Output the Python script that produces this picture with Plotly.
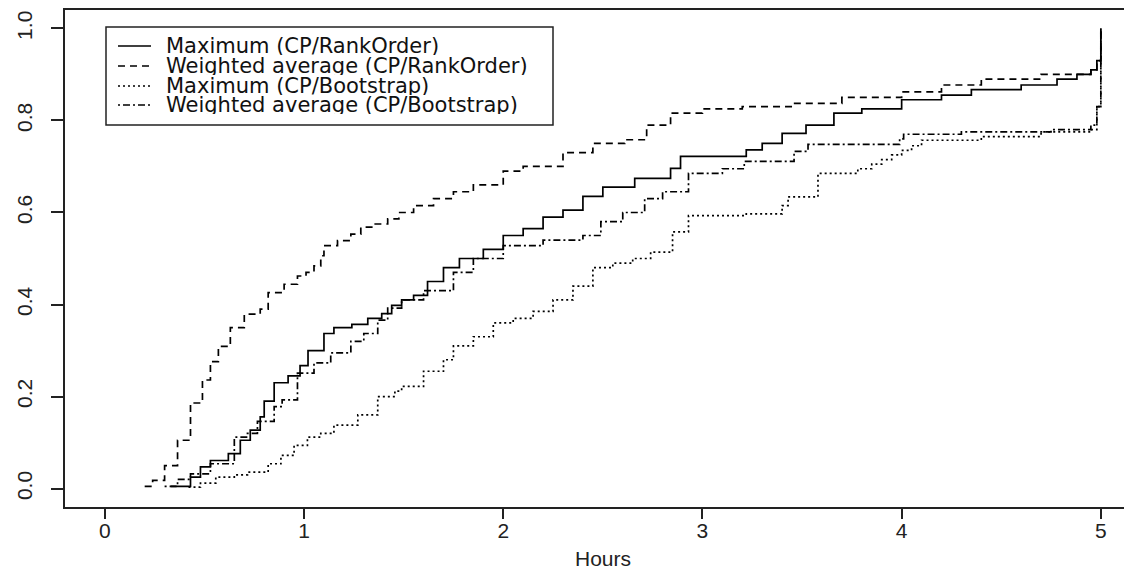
import plotly.graph_objects as go

# ---------------- data ----------------
series_names = [
    "Maximum (CP/RankOrder)",
    "Weighted average (CP/RankOrder)",
    "Maximum (CP/Bootstrap)",
    "Weighted average (CP/Bootstrap)",
]

hours_max_rank = [0.33, 0.43, 0.48, 0.53, 0.62, 0.68, 0.73, 0.78, 0.80, 0.85, 0.92, 0.98,
                  1.02, 1.10, 1.15, 1.24, 1.32, 1.39, 1.44, 1.49, 1.55, 1.62, 1.70, 1.78,
                  1.90, 2.00, 2.10, 2.20, 2.30, 2.40, 2.50, 2.66, 2.84, 2.89, 3.22, 3.30,
                  3.40, 3.52, 3.66, 3.80, 4.00, 4.20, 4.35, 4.60, 4.78, 4.88, 4.95, 4.98, 5.00]
prob_max_rank = [0.005, 0.025, 0.047, 0.061, 0.076, 0.105, 0.127, 0.156, 0.19, 0.23, 0.245, 0.267,
                 0.30, 0.337, 0.35, 0.357, 0.37, 0.38, 0.398, 0.41, 0.42, 0.45, 0.48, 0.50,
                 0.52, 0.55, 0.565, 0.59, 0.605, 0.635, 0.655, 0.674, 0.696, 0.722, 0.736, 0.75,
                 0.772, 0.79, 0.816, 0.825, 0.845, 0.855, 0.867, 0.877, 0.89, 0.90, 0.91, 0.93, 1.0]

hours_wavg_rank = [0.20, 0.24, 0.30, 0.365, 0.43, 0.49, 0.53, 0.57, 0.63, 0.70, 0.78, 0.82,
                   0.90, 0.967, 1.01, 1.05, 1.084, 1.10, 1.168, 1.235, 1.285, 1.35, 1.42, 1.476,
                   1.55, 1.65, 1.75, 1.85, 2.00, 2.10, 2.30, 2.45, 2.61, 2.72, 2.84, 3.00,
                   3.20, 3.45, 3.70, 4.00, 4.20, 4.40, 4.70, 4.95, 4.98, 5.00]
prob_wavg_rank = [0.005, 0.018, 0.05, 0.105, 0.186, 0.236, 0.276, 0.309, 0.35, 0.379, 0.39, 0.426,
                  0.444, 0.462, 0.47, 0.484, 0.506, 0.528, 0.539, 0.553, 0.568, 0.575, 0.586, 0.60,
                  0.615, 0.63, 0.645, 0.66, 0.69, 0.70, 0.73, 0.75, 0.758, 0.79, 0.816, 0.825,
                  0.83, 0.837, 0.85, 0.862, 0.877, 0.89, 0.90, 0.91, 0.93, 1.0]

hours_max_boot = [0.42, 0.48, 0.557, 0.65, 0.716, 0.82, 0.884, 0.95, 1.017, 1.084, 1.15, 1.27,
                  1.37, 1.456, 1.49, 1.60, 1.70, 1.75, 1.85, 1.95, 2.05, 2.15, 2.25, 2.35,
                  2.45, 2.55, 2.65, 2.74, 2.85, 2.93, 3.22, 3.40, 3.43, 3.58, 3.78, 3.85,
                  3.90, 3.95, 4.00, 4.05, 4.10, 4.40, 4.70, 4.95, 4.98, 5.00]
prob_max_boot = [0.003, 0.012, 0.025, 0.03, 0.036, 0.054, 0.072, 0.094, 0.112, 0.12, 0.138, 0.16,
                 0.20, 0.212, 0.222, 0.255, 0.28, 0.31, 0.33, 0.36, 0.37, 0.385, 0.41, 0.44,
                 0.48, 0.49, 0.50, 0.514, 0.558, 0.593, 0.597, 0.615, 0.634, 0.685, 0.695, 0.705,
                 0.715, 0.725, 0.735, 0.745, 0.757, 0.765, 0.775, 0.78, 0.83, 1.0]

hours_wavg_boot = [0.30, 0.365, 0.43, 0.53, 0.65, 0.716, 0.766, 0.85, 0.89, 0.967, 1.05, 1.134,
                   1.235, 1.30, 1.37, 1.42, 1.49, 1.60, 1.75, 1.85, 2.00, 2.20, 2.40, 2.49,
                   2.60, 2.71, 2.80, 2.93, 3.10, 3.21, 3.46, 3.53, 3.99, 4.01, 4.30, 4.75,
                   4.95, 4.98, 5.00]
prob_wavg_boot = [0.005, 0.02, 0.032, 0.054, 0.112, 0.12, 0.146, 0.178, 0.193, 0.251, 0.273, 0.295,
                  0.32, 0.337, 0.366, 0.392, 0.41, 0.43, 0.47, 0.50, 0.528, 0.54, 0.55, 0.58,
                  0.60, 0.63, 0.645, 0.685, 0.695, 0.711, 0.733, 0.748, 0.76, 0.77, 0.775, 0.78,
                  0.79, 0.83, 1.0]

x_tick_values = [0, 1, 2, 3, 4, 5]
x_tick_labels = ["0", "1", "2", "3", "4", "5"]
y_tick_values = [0.0, 0.2, 0.4, 0.6, 0.8, 1.0]
y_tick_labels = ["0.0", "0.2", "0.4", "0.6", "0.8", "1.0"]
x_title = "Hours"

# ---------------- styling ----------------
W, H = 1124, 570
ML, MR, MT, MB = 65, 0, 10, 63
PW, PH = W - ML - MR, H - MT - MB
BOTTOM = H - MB

def paper_x(px):
    return (px - ML) / PW

def paper_y(py):
    return (BOTTOM - py) / PH

dashes = ["solid", "7px,5px", "2px,3px", "2px,3px,7px,3px"]
xs = [hours_max_rank, hours_wavg_rank, hours_max_boot, hours_wavg_boot]
ys = [prob_max_rank, prob_wavg_rank, prob_max_boot, prob_wavg_boot]

AX_FONT = dict(family="Liberation Sans, Arial, sans-serif", size=21, color="#222")
LEG_FONT = dict(family="DejaVu Sans, sans-serif", size=21, color="#111")

fig = go.Figure()
for name, x, y, d in zip(series_names, xs, ys, dashes):
    fig.add_trace(go.Scatter(
        x=x, y=y, mode="lines", name=name, showlegend=False,
        line=dict(shape="hv", color="black", width=1.7, dash=d),
    ))

# manual legend (R-style box)
box_l, box_r, box_t, box_b = 106, 553, 27, 125
shapes = [dict(type="rect", xref="paper", yref="paper",
               x0=paper_x(box_l), x1=paper_x(box_r), y0=paper_y(box_b), y1=paper_y(box_t),
               line=dict(color="#222", width=1.5), fillcolor="rgba(0,0,0,0)")]
annotations = []
row_y = [46, 66, 86, 105]
for name, d, ry in zip(series_names, dashes, row_y):
    shapes.append(dict(type="line", xref="paper", yref="paper",
                       x0=paper_x(118), x1=paper_x(151), y0=paper_y(ry), y1=paper_y(ry),
                       line=dict(color="black", width=1.7, dash=d)))
    annotations.append(dict(xref="paper", yref="paper", x=paper_x(164), y=paper_y(ry),
                            xanchor="left", yanchor="middle", text=name, showarrow=False,
                            height=18, valign="middle", font=LEG_FONT))

annotations.append(dict(xref="x", yref="paper", x=2.5, y=0, yanchor="top", xanchor="center",
                        yshift=-39, height=20, valign="middle", text=x_title, showarrow=False,
                        font=AX_FONT))

fig.update_layout(
    width=W, height=H,
    margin=dict(l=ML, r=MR, t=MT, b=MB, pad=0),
    paper_bgcolor="white", plot_bgcolor="white",
    shapes=shapes, annotations=annotations,
    showlegend=False,
    xaxis=dict(range=[-0.2, -0.2 + PW / 199.2], tickvals=x_tick_values, ticktext=x_tick_labels,
               showgrid=False, zeroline=False, showline=True, linecolor="#222", linewidth=1.5,
               mirror=True, ticks="outside", ticklen=10, tickwidth=1.5, tickcolor="#222",
               tickfont=AX_FONT, ticklabelstandoff=-6),
    yaxis=dict(range=[-0.04, 1.04], tickvals=y_tick_values, ticktext=y_tick_labels,
               showgrid=False, zeroline=False, showline=True, linecolor="#222", linewidth=1.5,
               mirror=False, ticks="outside", ticklen=12, tickwidth=1.5, tickcolor="#222",
               tickangle=-90, tickfont=AX_FONT, ticklabelstandoff=11),
)

# remove the browser's default 8px page margin so the figure sits at the window's corner
fig.write_html("out.html", config={"displayModeBar": False},
               post_script="document.body.style.margin='0';document.body.style.overflow='hidden';")
